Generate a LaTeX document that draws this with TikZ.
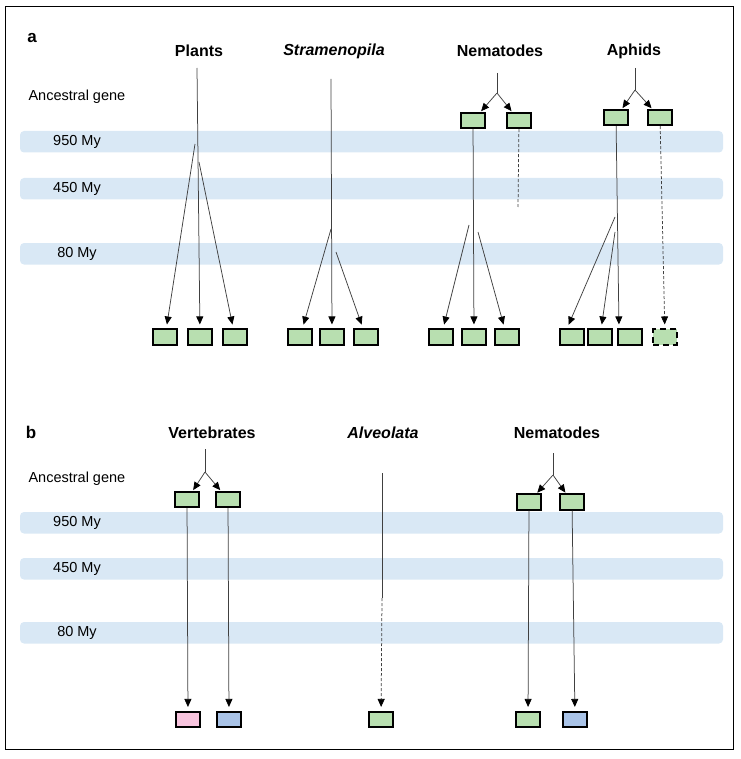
\documentclass[tikz,border=0pt]{standalone}
\usepackage{fontspec}
\setmainfont{Liberation Sans}
\usetikzlibrary{arrows.meta}
\definecolor{mygreen}{HTML}{B8DFB0}
\definecolor{myband}{HTML}{D9E8F5}
\definecolor{mypink}{HTML}{F8C4DE}
\definecolor{myblue}{HTML}{A9C3E7}

\begin{document}
\begin{tikzpicture}[x=1pt,y=-1pt]
	\tikzset{% This is the style settings for nodes and lines
		genebox/.style={rectangle,minimum width=23.5pt,minimum height=15.5pt,inner sep=0pt,fill=mygreen,draw=black,line width=1.6pt},
		pinkbox/.style={genebox,fill=mypink},
		bluebox/.style={genebox,fill=myblue},
		lostbox/.style={genebox,dash pattern=on 6pt off 4pt},
		band/.style={fill=myband,draw=none,rounded corners=4pt},
		title/.style={font=\fontsize{16}{19}\selectfont\bfseries},
		label/.style={font=\fontsize{14.5}{17}\selectfont},
		line/.style={draw=black!75,line width=0.75pt},
		arr/.style={line,-{Triangle[length=8pt,width=7pt,color=black]},shorten >=4pt},
		splitarr/.style={line,-{Triangle[length=8pt,width=7pt,color=black]},shorten >=1pt},
		dashedarr/.style={arr,dash pattern=on 3pt off 2pt}}
	\useasboundingbox (0,0) rectangle (740,759);
	\draw[line width=1pt] (5,7) rectangle (733,749);

	% time bands
	\foreach \y/\t in {131/950 My,178/450 My,243/80 My,512/950 My,558/450 My,622/80 My}{
		\fill[band] (20,\y) rectangle (723,\y+21.5);
		\node[label] at (77,\y+11) {\t};
	}

	% panel a
	\node[title,font=\fontsize{17}{19}\selectfont\bfseries] (a) at (32,38) {a};
	\node[label,anchor=west] (ancA) at (25,97) {Ancestral gene};
	\node[title] (plantsT) at (199,51) {Plants};
	\node[title] (stramT) at (334,51) {\itshape Stramenopila};
	\node[title] (nemaT) at (500,51) {Nematodes};
	\node[title] (aphT) at (634,51) {Aphids};

	% plants
	\coordinate (pS) at (197,68);
	\coordinate (pL) at (195,144);
	\coordinate (pR) at (199,162);
	\node[genebox] (p1) at (165,337) {};
	\node[genebox] (p2) at (200,337) {};
	\node[genebox] (p3) at (235,337) {};
	\draw[arr] (pS) -- (p2);
	\draw[arr] (pL) -- (p1);
	\draw[arr] (pR) -- (p3);

	% stramenopila
	\coordinate (sS) at (331,79);
	\coordinate (sL) at (331,229);
	\coordinate (sR) at (336,252);
	\node[genebox] (s1) at (300,337) {};
	\node[genebox] (s2) at (332,337) {};
	\node[genebox] (s3) at (366,337) {};
	\draw[arr] (sS) -- (s2);
	\draw[arr] (sL) -- (s1);
	\draw[arr] (sR) -- (s3);

	% nematodes
	\coordinate (nS) at (497,73);
	\coordinate (nJ) at (497,93);
	\node[genebox,minimum width=24.5pt] (nA) at (473,120.5) {};
	\node[genebox,minimum width=24.5pt] (nB) at (519,120.5) {};
	\coordinate (nE) at (518,207);
	\coordinate (nL) at (469,225);
	\coordinate (nR) at (478,232);
	\node[genebox] (n1) at (441,337) {};
	\node[genebox] (n2) at (474,337) {};
	\node[genebox] (n3) at (507,337) {};
	\draw[line] (nS) -- (nJ);
	\draw[splitarr] (nJ) -- (nA);
	\draw[splitarr] (nJ) -- (nB);
	\draw[arr] (nA) -- (n2);
	\draw[line,dash pattern=on 3pt off 2pt] (nB) -- (nE);
	\draw[arr] (nL) -- (n1);
	\draw[arr] (nR) -- (n3);

	% aphids
	\coordinate (aS) at (635,68);
	\coordinate (aJ) at (635,90);
	\node[genebox] (aA) at (616,117.5) {};
	\node[genebox] (aB) at (660,117.5) {};
	\coordinate (aL) at (615,217);
	\coordinate (aM) at (615,232);
	\node[genebox] (a1) at (572,337) {};
	\node[genebox] (a2) at (600,337) {};
	\node[genebox] (a3) at (630,337) {};
	\node[lostbox] (a4) at (665,337) {};
	\draw[line] (aS) -- (aJ);
	\draw[splitarr] (aJ) -- (aA);
	\draw[splitarr] (aJ) -- (aB);
	\draw[arr] (aA) -- ([xshift=-11pt]a3.north);
	\draw[dashedarr] (aB) -- (a4);
	\draw[arr] (aL) -- ([xshift=-5pt]a1.north);
	\draw[arr] (aM) -- (a2);

	% panel b
	\node[title,font=\fontsize{17}{19}\selectfont\bfseries] (b) at (31,432) {b};
	\node[label,anchor=west] (ancB) at (25,479) {Ancestral gene};
	\node[title] (vertT) at (212,433) {Vertebrates};
	\node[title] (alvT) at (383,433) {\itshape Alveolata};
	\node[title] (nemT) at (557,433) {Nematodes};

	% vertebrates
	\coordinate (vS) at (205,449);
	\coordinate (vJ) at (205,472);
	\node[genebox] (vA) at (187,499.5) {};
	\node[genebox] (vB) at (228,499.5) {};
	\node[pinkbox] (v1) at (188,719.5) {};
	\node[bluebox] (v2) at (229,719.5) {};
	\draw[line] (vS) -- (vJ);
	\draw[splitarr] (vJ) -- (vA);
	\draw[splitarr] (vJ) -- (vB);
	\draw[arr] (vA) -- (v1);
	\draw[arr] (vB) -- (v2);

	% alveolata
	\coordinate (lS) at (382,473);
	\coordinate (lE) at (382,598);
	\node[genebox] (l1) at (381,719.5) {};
	\draw[line] (lS) -- (lE);
	\draw[dashedarr] (lE) -- (l1);

	% nematodes
	\coordinate (mS) at (553,453);
	\coordinate (mJ) at (553,475);
	\node[genebox] (mA) at (529,502) {};
	\node[genebox] (mB) at (572,502) {};
	\node[genebox] (m1) at (528,719.5) {};
	\node[bluebox] (m2) at (575,719.5) {};
	\draw[line] (mS) -- (mJ);
	\draw[splitarr] (mJ) -- (mA);
	\draw[splitarr] (mJ) -- (mB);
	\draw[arr] (mA) -- (m1);
	\draw[arr] (mB) -- (m2);
\end{tikzpicture}
\end{document}
